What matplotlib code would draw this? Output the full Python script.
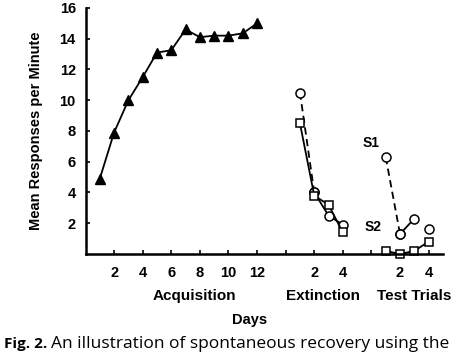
import matplotlib
matplotlib.use("Agg")
import matplotlib.pyplot as plt

# acquisition days 1-12 (triangles)
acq_days = [1, 2, 3, 4, 5, 6, 7, 8, 9, 10, 11, 12]
acq_resp = [4.9, 7.9, 10.0, 11.5, 13.1, 13.25, 14.6, 14.1, 14.2, 14.2, 14.35, 15.0]

# extinction days 1-4, placed after a gap on the day axis
ext_days = [15, 16, 17, 18]
ext_s1 = [10.5, 4.0, 2.5, 1.9]
ext_s2 = [8.5, 3.8, 3.2, 1.4]

# test trials 1-4
test_days = [21, 22, 23, 24]
test_s1 = [6.3, 1.3, 2.3, 1.6]
test_s2 = [0.2, 0.0, 0.2, 0.8]

xticks = [2, 4, 6, 8, 10, 12, 14, 16, 18, 20, 22, 24]
xticklabels = ["2", "4", "6", "8", "10", "12", "", "2", "4", "", "2", "4"]
yticks = [2, 4, 6, 8, 10, 12, 14, 16]

plt.rcParams["font.family"] = ["Liberation Sans", "DejaVu Sans"]

fig = plt.figure(figsize=(4.74, 3.54), dpi=100)
ax = fig.add_axes([0.1804, 0.2825, 0.754, 0.695])

k = "black"
ax.plot(acq_days, acq_resp, color=k, lw=1.3, marker="^", ms=7.5, mfc=k, mec=k, clip_on=False)

circ = dict(marker="o", ms=6.5, mfc="white", mec=k, mew=1.1, color=k, lw=1.3, clip_on=False)
sq = dict(marker="s", ms=6, mfc="white", mec=k, mew=1.1, color=k, lw=1.3, clip_on=False)

# extinction
ax.plot(ext_days[:2], ext_s1[:2], ls=(0, (4, 2.5)), **circ)
ax.plot(ext_days[1:], ext_s1[1:], ls="-", **circ)
ax.plot(ext_days, ext_s2, ls="-", **sq)

# test trials
ax.plot(test_days[:2], test_s1[:2], ls=(0, (4, 2.5)), **circ)
ax.plot(test_days[1:3], test_s1[1:3], ls="-", **circ)
ax.plot(test_days[3:], test_s1[3:], ls="none", **circ)
ax.plot(test_days, test_s2, ls="-", **sq)

ax.set_xlim(0, 25)
ax.set_ylim(0, 16)
ax.set_xticks(xticks)
ax.set_xticklabels(xticklabels)
ax.set_yticks(yticks)
for lab in ax.get_xticklabels() + ax.get_yticklabels():
    lab.set_fontweight("bold")
ax.tick_params(direction="in", length=3, width=1.2, labelsize=10.5)
ax.tick_params(axis="x", pad=9)
ax.tick_params(axis="y", pad=7)

for s in ["top", "right"]:
    ax.spines[s].set_visible(False)
for s in ["left", "bottom"]:
    ax.spines[s].set_linewidth(1.8)

ax.set_ylabel("Mean Responses per Minute", fontsize=10.5, fontweight="bold", labelpad=12)

ax.text(19.95, 7.25, "S1", fontsize=10, fontweight="bold", ha="center", va="center")
ax.text(20.1, 1.75, "S2", fontsize=10, fontweight="bold", ha="center", va="center")

trans = ax.get_xaxis_transform()
for xc, name in [(7.65, "Acquisition"), (16.6, "Extinction"), (23.0, "Test Trials")]:
    ax.text(xc, -0.171, name, transform=trans, fontsize=11, fontweight="bold",
            ha="center", va="center")
ax.text(11.5, -0.268, "Days", transform=trans, fontsize=10.5, fontweight="bold",
        ha="center", va="center")

cap_font = ["Open Sans", "DejaVu Sans"]
fig.text(0.008, 0.028, "Fig. 2.", family=cap_font, fontsize=11, fontweight="bold",
         ha="left", va="center")
fig.text(0.108, 0.028, "An illustration of spontaneous recovery using the",
         family=cap_font, fontsize=12.5, ha="left", va="center")

fig.savefig("out.png", dpi=100)
